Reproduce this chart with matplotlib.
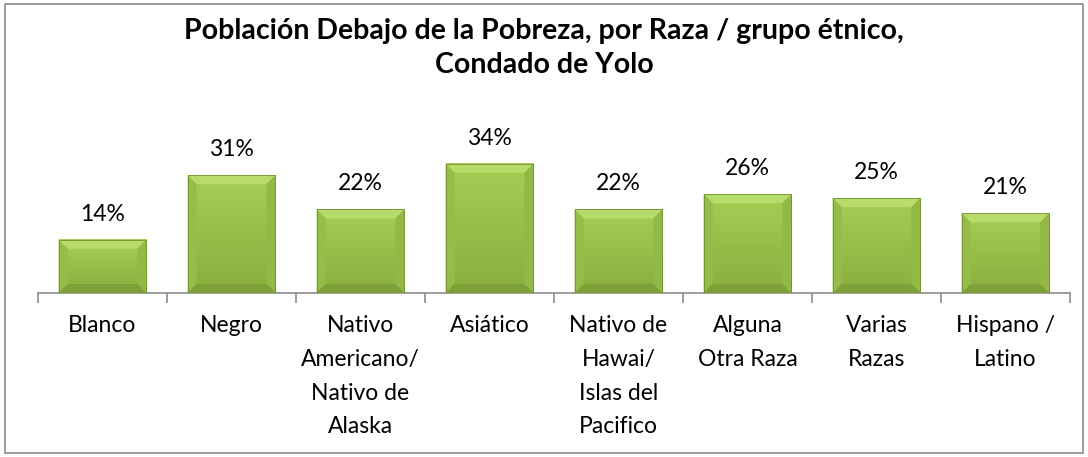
import numpy as np
import matplotlib
matplotlib.use("Agg")
import matplotlib.pyplot as plt
from matplotlib.patches import Polygon, Rectangle
from matplotlib.colors import LinearSegmentedColormap

# ── data ─────────────────────────────────────────────────────────────
categories = [
    "Blanco",
    "Negro",
    "Nativo\nAmericano/\nNativo de\nAlaska",
    "Asiático",
    "Nativo de\nHawai/\nIslas del\nPacifico",
    "Alguna\nOtra Raza",
    "Varias\nRazas",
    "Hispano /\nLatino",
]
values = [14, 31, 22, 34, 22, 26, 25, 21]
value_labels = [f"{v}%" for v in values]

title = "Población Debajo de la Pobreza, por Raza / grupo étnico,\nCondado de Yolo"

plt.rcParams["font.family"] = ["Lato", "DejaVu Sans"]

fig = plt.figure(figsize=(10.88, 4.57), dpi=100)
fig.patch.set_facecolor("white")

# outer chart border
fig.add_artist(Rectangle((5 / 1088, 4 / 457), 1078 / 1088, 449 / 457,
                         transform=fig.transFigure, fill=False,
                         edgecolor="#8C8C8C", linewidth=1.2))

ax = fig.add_axes([38 / 1088, 164 / 457, 1032 / 1088, 152 / 457])
x = np.arange(len(categories))
ax.set_xlim(-0.5, len(categories) - 0.5)
ax.set_ylim(0, 40)

bars = ax.bar(x, values, width=0.68, color="#9DC54C", edgecolor="none", zorder=2)

# gradient body + bevel edges derived from each bar's own geometry
grad = LinearSegmentedColormap.from_list("g", ["#89AE3F", "#A6CE54"])
fig.canvas.draw()
inv = ax.transData.inverted()
p0 = inv.transform((0, 0))
p1 = inv.transform((9, 9))
bx, by = p1 - p0   # 9 px bevel expressed in data units
for b in bars:
    x0, w, h = b.get_x(), b.get_width(), b.get_height()
    x1 = x0 + w
    ax.imshow(np.linspace(0, 1, 64).reshape(-1, 1), cmap=grad, aspect="auto",
              extent=(x0, x1, 0, h), origin="lower", zorder=2)
    bevels = [
        ([(x0, h), (x1, h), (x1 - bx, h - by), (x0 + bx, h - by)], "#B7DC6B"),
        ([(x0, 0), (x0, h), (x0 + bx, h - by), (x0 + bx, by)], "#96BD49"),
        ([(x1, 0), (x1, h), (x1 - bx, h - by), (x1 - bx, by)], "#92B846"),
        ([(x0, 0), (x1, 0), (x1 - bx, by), (x0 + bx, by)], "#7EA038"),
    ]
    for pts, col in bevels:
        ax.add_patch(Polygon(pts, closed=True, facecolor=col,
                             edgecolor="none", zorder=3))
    ax.add_patch(Rectangle((x0, 0), w, h, fill=False, edgecolor="#6F8F2E",
                           linewidth=0.6, zorder=4))

# value labels
for b, lab in zip(bars, value_labels):
    ax.annotate(lab, (b.get_x() + b.get_width() / 2, b.get_height()),
                xytext=(0, 11), textcoords="offset points",
                ha="center", va="bottom", fontsize=16.5, color="#000000")

# axis styling
for s in ("top", "right", "left"):
    ax.spines[s].set_visible(False)
ax.spines["bottom"].set_color("#8C8C8C")
ax.spines["bottom"].set_linewidth(1.2)
ax.set_yticks([])
ax.set_xticks(x)
ax.set_xticklabels(categories, fontsize=16.5, linespacing=1.75, color="#000000")
ax.tick_params(axis="x", which="major", length=0, pad=16)
ax.set_xticks(np.arange(len(categories) + 1) - 0.5, minor=True)
ax.tick_params(axis="x", which="minor", length=7, width=1.2, color="#8C8C8C",
               direction="out")

fig.text(0.5, 1 - 18 / 457, title, ha="center", va="top", fontsize=20.5,
         fontweight="bold", linespacing=1.4)

fig.savefig("out.png", dpi=100, facecolor="white")
